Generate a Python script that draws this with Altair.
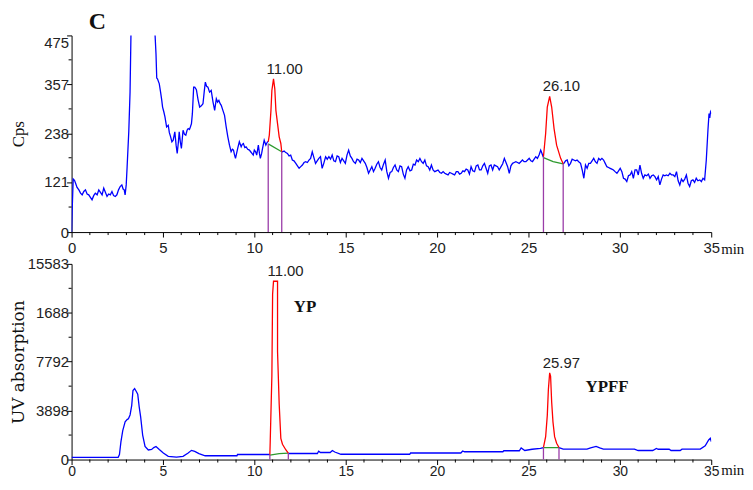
import altair as alt
import pandas as pd

W = 644
H_TOP, H_BOT = 198, 197

# ---------------- data: top panel (Cps) ----------------
TOP_A_T = [0.00, 0.04, 0.09, 0.16, 0.22, 0.30, 0.40, 0.49, 0.58, 0.67, 0.76, 0.85, 0.94, 1.03, 1.12, 1.21,
           1.30, 1.40, 1.49, 1.58, 1.67, 1.76, 1.85, 1.94, 2.03, 2.12, 2.21, 2.30, 2.39, 2.48, 2.57, 2.66,
           2.75, 2.82, 2.88, 2.93, 2.99, 3.04, 3.13, 3.20, 3.25, 3.27, 4.55, 4.57, 4.62, 4.66, 4.70, 4.80,
           4.87, 4.93, 4.98, 5.05, 5.11, 5.20, 5.29, 5.35, 5.42, 5.49, 5.56, 5.65, 5.72, 5.78, 5.84, 5.89,
           5.95, 6.01, 6.10, 6.18, 6.25, 6.32, 6.38, 6.45, 6.50, 6.56, 6.61, 6.68, 6.74, 6.83, 6.92, 7.01,
           7.10, 7.19, 7.26, 7.32, 7.39, 7.46, 7.55, 7.64, 7.74, 7.83, 7.92, 7.99, 8.06, 8.13, 8.19, 8.28,
           8.37, 8.46, 8.55, 8.64, 8.73, 8.80, 8.86, 8.92, 8.97, 9.03, 9.09, 9.18, 9.28, 9.34, 9.40, 9.48,
           9.55, 9.64, 9.73, 9.80, 9.87, 9.94, 10.00, 10.07, 10.13, 10.22, 10.28, 10.33, 10.40, 10.45, 10.54,
           10.63, 10.72, 10.76]
TOP_A_V = [0, 62, 128, 125, 118, 108, 102, 94, 90, 98, 102, 92, 90, 84, 78, 88,
           94, 90, 102, 96, 90, 106, 96, 86, 92, 90, 98, 88, 86, 90, 102, 110,
           114, 104, 102, 90, 114, 158, 242, 338, 478, 700, 700, 475, 430, 372, 370, 358,
           338, 320, 302, 290, 278, 254, 258, 240, 230, 218, 222, 242, 210, 190, 215, 242,
           218, 202, 246, 236, 234, 246, 250, 248, 254, 262, 286, 350, 350, 344, 320, 302,
           305, 310, 340, 362, 352, 350, 338, 342, 314, 294, 322, 314, 318, 310, 306, 294,
           282, 254, 230, 210, 194, 200, 198, 186, 178, 190, 202, 218, 206, 212, 214, 204,
           206, 200, 198, 194, 190, 186, 198, 194, 186, 210, 190, 178, 190, 202, 222,
           210, 218, 218]
TOP_B_T = [11.50, 11.54, 11.63, 11.72, 11.81, 11.90, 11.99, 12.08, 12.17, 12.27, 12.36, 12.45, 12.54, 12.63,
           12.72, 12.81, 12.90, 12.99, 13.08, 13.17, 13.26, 13.35, 13.44, 13.53, 13.62, 13.71, 13.80, 13.90,
           13.99, 14.08, 14.17, 14.26, 14.35, 14.44, 14.53, 14.62, 14.71, 14.80, 14.89, 14.98, 15.07, 15.16,
           15.25, 15.34, 15.43, 15.53, 15.62, 15.71, 15.80, 15.89, 15.98, 16.07, 16.16, 16.25, 16.34, 16.43,
           16.52, 16.61, 16.70, 16.79, 16.88, 16.97, 17.07, 17.16, 17.25, 17.34, 17.43, 17.52, 17.61, 17.70,
           17.79, 17.88, 17.97, 18.06, 18.15, 18.24, 18.33, 18.42, 18.52, 18.61, 18.70, 18.79, 18.88, 18.97,
           19.06, 19.15, 19.24, 19.33, 19.42, 19.51, 19.60, 19.69, 19.78, 19.87, 19.96, 20.05, 20.15, 20.24,
           20.33, 20.42, 20.51, 20.60, 20.69, 20.78, 20.87, 20.96, 21.05, 21.14, 21.23, 21.32, 21.41, 21.50,
           21.59, 21.68, 21.77, 21.86, 21.95, 22.05, 22.14, 22.23, 22.32, 22.41, 22.50, 22.59, 22.68, 22.77,
           22.86, 22.95, 23.04, 23.13, 23.22, 23.31, 23.40, 23.50, 23.59, 23.68, 23.77, 23.86, 23.95, 24.04,
           24.13, 24.22, 24.31, 24.40, 24.49, 24.58, 24.67, 24.76, 24.86, 24.95, 25.04, 25.13, 25.22, 25.31,
           25.40, 25.49, 25.58, 25.67, 25.74, 25.82]
TOP_B_V = [194, 194, 196, 192, 190, 184, 186, 174, 172, 166, 160, 154, 158, 162,
           168, 170, 168, 174, 178, 194, 180, 166, 172, 178, 182, 154, 166, 182,
           176, 182, 176, 186, 172, 170, 184, 182, 168, 178, 172, 166, 186, 198,
           184, 178, 170, 166, 176, 174, 168, 178, 172, 166, 156, 142, 150, 158,
           146, 154, 164, 170, 156, 150, 164, 174, 146, 130, 144, 146, 156, 162,
           150, 146, 160, 158, 140, 130, 150, 158, 148, 150, 164, 162, 174, 170,
           178, 170, 166, 174, 160, 158, 150, 162, 150, 146, 148, 150, 144, 142,
           146, 142, 140, 138, 144, 142, 140, 138, 146, 146, 140, 142, 148, 146,
           152, 150, 140, 158, 148, 146, 160, 162, 150, 150, 160, 166, 154, 142,
           160, 162, 150, 162, 160, 158, 150, 158, 165, 178, 168, 158, 142, 160,
           166, 168, 170, 168, 166, 170, 174, 170, 170, 174, 178, 172, 170, 176,
           182, 178, 186, 198, 190, 180]
TOP_C_T = [26.90, 26.94, 27.03, 27.12, 27.21, 27.30, 27.39, 27.48, 27.57, 27.66, 27.75, 27.85, 27.94, 28.03,
           28.12, 28.21, 28.30, 28.39, 28.48, 28.57, 28.66, 28.75, 28.84, 28.93, 29.02, 29.11, 29.20, 29.29,
           29.38, 29.47, 29.56, 29.65, 29.74, 29.84, 29.93, 30.02, 30.11, 30.20, 30.29, 30.38, 30.47, 30.56,
           30.65, 30.74, 30.83, 30.92, 31.01, 31.10, 31.19, 31.28, 31.37, 31.47, 31.56, 31.65, 31.74, 31.83,
           31.92, 32.01, 32.10, 32.19, 32.28, 32.37, 32.46, 32.55, 32.64, 32.74, 32.83, 32.92, 33.01, 33.10,
           33.19, 33.28, 33.37, 33.46, 33.55, 33.64, 33.73, 33.82, 33.91, 34.00, 34.09, 34.18, 34.27, 34.37,
           34.46, 34.55, 34.64, 34.73, 34.82, 34.88, 34.92, 34.96, 35.00]
TOP_C_V = [165, 166, 172, 174, 160, 166, 176, 174, 172, 174, 170, 166, 150, 130,
           162, 154, 166, 166, 172, 178, 170, 166, 178, 174, 178, 174, 166, 158,
           156, 154, 152, 150, 146, 142, 148, 154, 146, 130, 128, 122, 136, 138,
           146, 130, 150, 150, 138, 162, 142, 130, 138, 136, 140, 130, 136, 138,
           134, 126, 134, 114, 128, 138, 136, 138, 136, 142, 138, 138, 134, 146,
           124, 114, 128, 122, 128, 138, 118, 110, 124, 126, 120, 130, 124, 126,
           122, 130, 126, 174, 246, 286, 276, 290, 286]
TOP_RED1_T = [10.76, 10.82, 10.91, 10.96, 11.05, 11.12, 11.18, 11.27, 11.36, 11.45, 11.50]
TOP_RED1_V = [218, 234, 294, 342, 370, 346, 294, 262, 230, 214, 194]
TOP_RED2_T = [25.82, 25.94, 26.03, 26.16, 26.27, 26.40, 26.54, 26.76, 26.90]
TOP_RED2_V = [182, 238, 302, 328, 302, 250, 210, 178, 165]
TOP_GREEN1_T = [10.76, 11.50]
TOP_GREEN1_V = [213, 194]
TOP_GREEN2_T = [25.82, 26.35, 26.90]
TOP_GREEN2_V = [180, 170, 165]
TOP_MARK_T = [10.76, 11.50, 25.82, 26.90]
TOP_MARK_V = [213, 194, 180, 165]
TOP_PEAK_T = [11.05, 26.16]
TOP_PEAK_V = [370, 328]
TOP_PEAK_LABEL = ["11.00", "26.10"]
TOP_TICKS = [0, 121, 238, 357, 475]
TOP_MINOR = [60.5, 179.5, 297.5, 416]

# ---------------- data: bottom panel (UV absorption) ----------------
BOT_A_T = [0.00, 2.55, 2.62, 2.70, 2.80, 2.93, 3.05, 3.11, 3.20, 3.29, 3.36, 3.45, 3.55, 3.62, 3.70, 3.78,
           3.89, 4.02, 4.20, 4.38, 4.50, 4.62, 4.80, 5.02, 5.29, 5.74, 6.10, 6.38, 6.56, 6.74, 6.97, 7.31,
           9.05, 9.08, 10.85]
BOT_A_V = [180, 180, 400, 1400, 2300, 3000, 3200, 3250, 3550, 4300, 5500, 5650, 5400, 5200, 4200, 3400,
           1950, 1040, 760, 800, 950, 1040, 800, 520, 260, 200, 260, 520, 730, 650, 470, 300,
           300, 400, 400]
BOT_B_T = [11.86, 13.45, 13.52, 13.62, 14.15, 14.27, 14.40, 14.74, 18.50, 18.55, 21.30, 21.40, 21.50,
           23.60, 23.65, 24.50, 24.60, 24.80, 25.20, 25.66, 25.82]
BOT_B_V = [480, 480, 660, 560, 560, 720, 600, 420, 420, 520, 520, 680, 620,
           620, 700, 700, 930, 720, 820, 880, 950]
BOT_C_T = [26.67, 26.90, 28.20, 28.40, 28.70, 28.90, 29.10, 30.80, 31.00, 31.80, 32.00, 32.10, 32.70,
           32.80, 33.30, 33.40, 34.40, 34.67, 34.86, 34.95, 35.00]
BOT_C_V = [950, 830, 830, 930, 1040, 930, 830, 830, 720, 720, 880, 820, 820,
           720, 720, 830, 830, 1100, 1560, 1700, 1430]
BOT_RED1_T = [10.85, 10.87, 10.96, 11.00, 11.05, 11.27, 11.27, 11.36, 11.45, 11.54, 11.72, 11.86]
BOT_RED1_V = [390, 1430, 6650, 13160, 14200, 14200, 8600, 4430, 1690, 1220, 780, 516]
BOT_RED2_T = [25.82, 25.94, 26.03, 26.09, 26.16, 26.21, 26.27, 26.34, 26.43, 26.54, 26.67]
BOT_RED2_V = [962, 1820, 3520, 5600, 6900, 6650, 4560, 3000, 1820, 1300, 962]
BOT_GREEN1_T = [10.85, 11.36, 11.86]
BOT_GREEN1_V = [360, 470, 516]
BOT_GREEN2_T = [25.82, 26.67]
BOT_GREEN2_V = [950, 950]
BOT_MARK_T = [10.85, 11.86, 25.82, 26.67]
BOT_MARK_V = [390, 516, 962, 962]
BOT_PEAK_T = [11.10, 26.16]
BOT_PEAK_V = [14200, 6900]
BOT_PEAK_LABEL = ["11.00", "25.97"]
BOT_TICKS = [0, 3898, 7792, 11688, 15583]
BOT_MINOR = [1949, 5845, 9740, 13635]
BOT_NAMES = ["YP", "YPFF"]
BOT_NAMES_T = [12.77, 29.3]
BOT_NAMES_V = [12170, 5810]

X_MAJOR = [0, 5, 10, 15, 20, 25, 30, 35]
X_MINOR = [i for i in range(36) if i % 5 != 0]
PANEL_TAG = "C"
UNIT = "min"

LABEL_FONT = "Liberation Sans"
SERIF = "Liberation Serif"
BLUE, RED, GREEN, PURPLE = "#0000ff", "#ff0000", "#2e9a2e", "#9a3ca8"


def lines(pieces):
    rows = []
    idx = 0
    for seg, (ts, vs) in enumerate(pieces):
        for t, v in zip(ts, vs):
            rows.append({"t": t, "v": v, "seg": seg, "i": idx})
            idx += 1
    return pd.DataFrame(rows)


def panel(H, blue, red, green, marks, peaks, ymax, yticks, yminor, ytitle, title_font, title_size,
          label_expr, base_cond, xlabel_pad, xlabel_size, unit_dy, extra=None):
    xs = alt.Scale(domain=[0, 35], nice=False, zero=False)
    ys = alt.Scale(domain=[0, ymax], nice=False, zero=True)
    xaxis = alt.Axis(values=X_MAJOR, title=None, grid=False, tickSize=5, labelPadding=xlabel_pad,
                     labelFont=LABEL_FONT, labelFontSize=xlabel_size, labelColor="#222",
                     domainColor="black", tickColor="black", labelFlush=False)
    yaxis = alt.Axis(values=yticks, title=ytitle, grid=False, tickSize=5, labelPadding=-2,
                     labelFont=LABEL_FONT, labelFontSize=15, labelColor="#222", format="d",
                     labelExpr=label_expr, labelBaseline=base_cond,
                     titleFont=title_font, titleFontSize=title_size, titleFontWeight="normal",
                     titleColor="#111", titlePadding=0, minExtent=44, maxExtent=44,
                     domainColor="black", tickColor="black")
    X = alt.X("t:Q", scale=xs, axis=xaxis)
    Y = alt.Y("v:Q", scale=ys, axis=yaxis)

    def line_layer(df, color):
        return alt.Chart(df).mark_line(color=color, strokeWidth=1.3, clip=True).encode(
            x=X, y=Y, detail="seg:N", order="i:Q")

    layers = [
        line_layer(blue, BLUE),
        line_layer(green, GREEN),
        line_layer(red, RED),
        alt.Chart(marks).mark_rule(color=PURPLE, strokeWidth=1.3).encode(
            x=X, y=alt.Y("zero:Q", scale=ys, axis=yaxis), y2="v:Q"),
        alt.Chart(pd.DataFrame({"t": X_MINOR})).mark_rule(color="black").encode(
            x=X, y=alt.value(H), y2=alt.value(H + 3)),
        alt.Chart(pd.DataFrame({"v": yminor})).mark_rule(color="black").encode(
            y=Y, x=alt.value(0), x2=alt.value(-3)),
        alt.Chart(peaks).mark_text(align="left", baseline="middle", dx=-7, dy=-10,
                                   font=LABEL_FONT, fontSize=15, color="#222").encode(
            x=X, y=Y, text="lab:N"),
        alt.Chart(pd.DataFrame({"u": [UNIT]})).mark_text(
            align="left", baseline="middle", font=SERIF, fontSize=15, color="#111").encode(
            x=alt.value(W + 10), y=alt.value(H + unit_dy), text="u:N"),
    ]
    if extra is not None:
        layers += extra(X, Y)
    return alt.layer(*layers).properties(width=W, height=H)


top_blue = lines([(TOP_A_T, TOP_A_V), (TOP_B_T, TOP_B_V), (TOP_C_T, TOP_C_V)])
top_red = lines([(TOP_RED1_T, TOP_RED1_V), (TOP_RED2_T, TOP_RED2_V)])
top_green = lines([(TOP_GREEN1_T, TOP_GREEN1_V), (TOP_GREEN2_T, TOP_GREEN2_V)])
top_marks = pd.DataFrame({"t": TOP_MARK_T, "v": TOP_MARK_V, "zero": 0})
top_peaks = pd.DataFrame({"t": TOP_PEAK_T, "v": TOP_PEAK_V, "lab": TOP_PEAK_LABEL})

bot_blue = lines([(BOT_A_T, BOT_A_V), (BOT_B_T, BOT_B_V), (BOT_C_T, BOT_C_V)])
bot_red = lines([(BOT_RED1_T, BOT_RED1_V), (BOT_RED2_T, BOT_RED2_V)])
bot_green = lines([(BOT_GREEN1_T, BOT_GREEN1_V), (BOT_GREEN2_T, BOT_GREEN2_V)])
bot_marks = pd.DataFrame({"t": BOT_MARK_T, "v": BOT_MARK_V, "zero": 0})
bot_peaks = pd.DataFrame({"t": BOT_PEAK_T, "v": BOT_PEAK_V, "lab": BOT_PEAK_LABEL})
bot_names = pd.DataFrame({"t": BOT_NAMES_T, "v": BOT_NAMES_V, "name": BOT_NAMES})


def top_extra(X, Y):
    return [alt.Chart(pd.DataFrame({"c": [PANEL_TAG]})).mark_text(
        align="center", baseline="middle", font=SERIF, fontSize=24, fontWeight="bold",
        color="#111").encode(x=alt.value(26), y=alt.value(-13), text="c:N")]


def bot_extra(X, Y):
    return [alt.Chart(bot_names).mark_text(
        align="center", baseline="middle", font=SERIF, fontSize=17, fontWeight="bold",
        color="#111").encode(x=X, y=Y, text="name:N")]


top = panel(H_TOP, top_blue, top_red, top_green, top_marks, top_peaks, 475, TOP_TICKS, TOP_MINOR,
            "Cps", SERIF, 17, "datum.label",
            {"condition": {"test": "datum.value == 475", "value": "top"}, "value": "middle"},
            4, 15, 17, top_extra)
bottom = panel(H_BOT, bot_blue, bot_red, bot_green, bot_marks, bot_peaks, 15583, BOT_TICKS, BOT_MINOR,
               "UV absorption", "DejaVu Serif", 17,
               "datum.value == 11688 ? '1688' : datum.label", "middle", 0, 14, 11, bot_extra)

chart = alt.vconcat(top, bottom, spacing=0).properties(
    padding={"left": 2, "top": 1, "right": 0, "bottom": 0}
).configure_view(stroke=None)

chart.save("out.html", embed_options={"renderer": "svg", "actions": False})
